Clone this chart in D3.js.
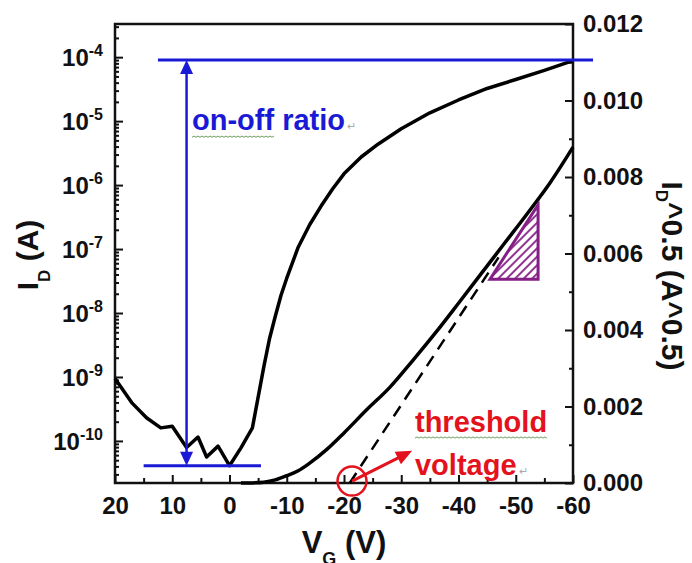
<!DOCTYPE html>
<html>
<head>
<meta charset="utf-8">
<script src="https://cdn.jsdelivr.net/npm/d3@7"></script>
<style>
body { margin: 0; background: #fff; }
svg { display: block; font-family: Arial, 'Liberation Sans', sans-serif; }
.tick text { font-size: 24px; font-weight: bold; fill: #111; }
.tick line { stroke: #111; stroke-width: 2; }
.axis-title { font-weight: bold; fill: #111; }
</style>
</head>
<body>
<div id="chart"></div>
<script>
// Transfer curve, log scale (left axis)
const vgLog = [20, 17, 14.5, 12, 10, 7.5, 5.5, 4, 2, 0, -2, -4, -6, -7, -8, -9, -10, -12, -14, -16, -18, -20, -23, -26, -30, -35, -40, -45, -50, -55, -60];
const idLog = [9.5e-10, 3.9e-10, 2.3e-10, 1.6e-10, 1.7e-10, 7.9e-11, 1.15e-10, 5.6e-11, 8.3e-11, 4.1e-11, 7.8e-11, 1.6e-10,
    1.45e-9, 4.0e-9, 8.9e-9, 1.9e-8, 3.5e-8, 1.07e-7, 2.4e-7, 4.7e-7, 8.7e-7, 1.5e-6, 2.75e-6, 4.4e-6, 7.6e-6,
    1.35e-5, 2.14e-5, 3.24e-5, 4.47e-5, 6.2e-5, 8.8e-5];

// Transfer curve, square root (right axis)
const vgSqrt = [-2, -4, -6, -8, -10, -12, -14, -17, -20, -24, -28, -32, -36, -40, -44, -48, -52, -56, -60];
const idSqrt = [0, 0.000003, 0.00002, 0.00008, 0.00019, 0.00032, 0.00052, 0.00088, 0.00131, 0.00192, 0.0025, 0.0032,
    0.00393, 0.0047, 0.00548, 0.00626, 0.00704, 0.00785, 0.00878];

// Linear fit used for the threshold voltage
const vgFit = [-21, -47];
const idFit = [0, 0.0059];

// Tick values
const xTicks = [20, 10, 0, -10, -20, -30, -40, -50, -60];
const xMinorTicks = [15, 5, -5, -15, -25, -35, -45, -55];
const logExponents = [-4, -5, -6, -7, -8, -9, -10];
const sqrtTicks = [0, 0.002, 0.004, 0.006, 0.008, 0.010, 0.012];
const sqrtMinorTicks = [0.001, 0.003, 0.005, 0.007, 0.009, 0.011];

// Annotation values
const ionLevel = 9e-5;
const ioffLevel = 4.1e-11;
const ratioVg = 7.5;
const onLineVg = [12.5, -63.5];
const offLineVg = [15, -5.5];
const vthVg = -21.4;
const triangleVg = [-45.5, -53.9];
const triangleId = [0.00533, 0.00727];

const margin = { top: 24, right: 119, bottom: 80, left: 115 };
const width = 692 - margin.left - margin.right;
const height = 563 - margin.top - margin.bottom;

const blue = '#1a1ad6';
const red = '#e3121c';
const purple = '#851f86';

const svg = d3.select('#chart')
    .append('svg')
    .attr('width', 692)
    .attr('height', 563);

const defs = svg.append('defs');
defs.append('pattern')
    .attr('id', 'hatch')
    .attr('patternUnits', 'userSpaceOnUse')
    .attr('width', 6)
    .attr('height', 6)
    .attr('patternTransform', 'rotate(45)')
    .append('line')
    .attr('x1', 1).attr('y1', 0).attr('x2', 1).attr('y2', 6)
    .attr('stroke', purple)
    .attr('stroke-width', 1.8);

const g = svg.append('g')
    .attr('transform', `translate(${margin.left}, ${margin.top})`);

// Scales
const x = d3.scaleLinear().domain([20, -60]).range([0, width]);
const yLog = d3.scaleLog().domain([2.2e-11, 3.3e-4]).range([height, 0]);
const ySqrt = d3.scaleLinear().domain([0, 0.012]).range([height, 0]);

// Log minor ticks
const logMinor = [];
for (let e = -11; e <= -4; e++) {
    for (let k = 2; k <= 9; k++) {
        const v = k * Math.pow(10, e);
        if (v > 2.2e-11 && v < 3.3e-4) logMinor.push(v);
    }
}

// Bottom axis
g.append('g')
    .attr('transform', `translate(0, ${height})`)
    .call(d3.axisBottom(x).tickValues(xTicks).tickSize(-8).tickPadding(14).tickFormat(d => String(d)))
    .call(a => a.select('.domain').remove());
g.append('g')
    .attr('transform', `translate(0, ${height})`)
    .call(d3.axisBottom(x).tickValues(xMinorTicks).tickSize(-5).tickFormat(''))
    .call(a => a.select('.domain').remove());

// Left log axis
g.append('g')
    .call(d3.axisLeft(yLog).tickValues(logExponents.map(e => Math.pow(10, e))).tickSize(-8).tickFormat(''))
    .call(a => a.select('.domain').remove());
g.append('g')
    .call(d3.axisLeft(yLog).tickValues(logMinor).tickSize(-4).tickFormat(''))
    .call(a => a.select('.domain').remove());

logExponents.forEach(e => {
    const t = g.append('text')
        .attr('x', -12)
        .attr('y', yLog(Math.pow(10, e)))
        .attr('dy', '0.36em')
        .attr('text-anchor', 'end')
        .style('font-size', '24px')
        .style('font-weight', 'bold')
        .style('fill', '#111');
    t.append('tspan').text('10');
    t.append('tspan').attr('dy', -10).style('font-size', '16px').text(String(e));
});

// Right linear axis
g.append('g')
    .attr('transform', `translate(${width}, 0)`)
    .call(d3.axisRight(ySqrt).tickValues(sqrtTicks).tickSize(-8).tickPadding(10).tickFormat(d => d.toFixed(3)))
    .call(a => a.select('.domain').remove());
g.append('g')
    .attr('transform', `translate(${width}, 0)`)
    .call(d3.axisRight(ySqrt).tickValues(sqrtMinorTicks).tickSize(-4).tickFormat(''))
    .call(a => a.select('.domain').remove());

// Frame
g.append('rect')
    .attr('width', width)
    .attr('height', height)
    .attr('fill', 'none')
    .attr('stroke', '#111')
    .attr('stroke-width', 2.5);

// Axis titles
const xTitle = svg.append('text')
    .attr('class', 'axis-title')
    .attr('x', margin.left + width / 2)
    .attr('y', 553)
    .attr('text-anchor', 'middle')
    .style('font-size', '31px');
xTitle.append('tspan').text('V');
xTitle.append('tspan').attr('dy', 12).style('font-size', '18px').text('G');
xTitle.append('tspan').attr('dy', -12).text(' (V)');

const yTitle = svg.append('text')
    .attr('class', 'axis-title')
    .attr('transform', 'translate(38, 255) rotate(-90)')
    .attr('text-anchor', 'middle')
    .style('font-size', '30px');
yTitle.append('tspan').text('I');
yTitle.append('tspan').attr('dy', 12).style('font-size', '17px').text('D');
yTitle.append('tspan').attr('dy', -12).text(' (A)');

const y2Title = svg.append('text')
    .attr('class', 'axis-title')
    .attr('transform', 'translate(662, 276) rotate(90)')
    .attr('text-anchor', 'middle')
    .style('font-size', '30px');
y2Title.append('tspan').text('I');
y2Title.append('tspan').attr('dy', 6).style('font-size', '17px').text('D');
y2Title.append('tspan').attr('dy', -6).text('^0.5 (A^0.5)');

// Curves
const logLine = d3.line()
    .x(d => x(d[0]))
    .y(d => yLog(d[1]));
const sqrtLine = d3.line()
    .x(d => x(d[0]))
    .y(d => ySqrt(d[1]))
    .curve(d3.curveMonotoneX);

g.append('path')
    .datum(vgLog.map((v, i) => [v, idLog[i]]))
    .attr('d', logLine)
    .attr('fill', 'none')
    .attr('stroke', '#000')
    .attr('stroke-width', 3.5)
    .attr('stroke-linejoin', 'round');

g.append('path')
    .datum(vgSqrt.map((v, i) => [v, idSqrt[i]]))
    .attr('d', sqrtLine)
    .attr('fill', 'none')
    .attr('stroke', '#000')
    .attr('stroke-width', 3.5);

g.append('path')
    .datum(vgFit.map((v, i) => [v, idFit[i]]))
    .attr('d', d3.line().x(d => x(d[0])).y(d => ySqrt(d[1])))
    .attr('fill', 'none')
    .attr('stroke', '#000')
    .attr('stroke-width', 2.5)
    .attr('stroke-dasharray', '12,8');

// Slope triangle
const tri = [[triangleVg[0], triangleId[0]], [triangleVg[1], triangleId[0]], [triangleVg[1], triangleId[1]]];
g.append('path')
    .attr('d', 'M' + tri.map(p => `${x(p[0])},${ySqrt(p[1])}`).join('L') + 'Z')
    .attr('fill', 'url(#hatch)')
    .attr('stroke', purple)
    .attr('stroke-width', 3)
    .attr('stroke-linejoin', 'miter');

// Arrow head helper
function arrowHead(tipX, tipY, fromX, fromY, len, halfW) {
    const a = Math.atan2(tipY - fromY, tipX - fromX);
    const bx = tipX - len * Math.cos(a), by = tipY - len * Math.sin(a);
    const px = -Math.sin(a) * halfW, py = Math.cos(a) * halfW;
    return `${tipX},${tipY} ${bx + px},${by + py} ${bx - px},${by - py}`;
}

// On-off ratio annotation
const yOn = yLog(ionLevel), yOff = yLog(ioffLevel), ax = x(ratioVg);
g.append('line')
    .attr('x1', x(onLineVg[0])).attr('x2', x(onLineVg[1]))
    .attr('y1', yOn).attr('y2', yOn)
    .attr('stroke', blue).attr('stroke-width', 3);
g.append('line')
    .attr('x1', x(offLineVg[0])).attr('x2', x(offLineVg[1]))
    .attr('y1', yOff).attr('y2', yOff)
    .attr('stroke', blue).attr('stroke-width', 3);
g.append('line')
    .attr('x1', ax).attr('x2', ax)
    .attr('y1', yOn + 10).attr('y2', yOff - 10)
    .attr('stroke', blue).attr('stroke-width', 2.5);
g.append('polygon')
    .attr('points', arrowHead(ax, yOn, ax, yOn + 20, 14, 6.5))
    .attr('fill', blue);
g.append('polygon')
    .attr('points', arrowHead(ax, yOff, ax, yOff - 20, 14, 6.5))
    .attr('fill', blue);

const ratioText = g.append('text')
    .attr('x', x(6.55))
    .attr('y', yLog(7.2e-6))
    .style('font-size', '29px')
    .style('font-weight', 'bold')
    .style('fill', blue);
ratioText.append('tspan').text('on-off ratio');
ratioText.append('tspan').attr('dx', 2).style('font-size', '11px').style('font-weight', 'normal').style('fill', '#aaa').text('\u21b5');

// Threshold voltage annotation
const cx = x(vthVg), cy = ySqrt(0.00005);
g.append('circle')
    .attr('cx', cx).attr('cy', cy).attr('r', 14.5)
    .attr('fill', 'none').attr('stroke', red).attr('stroke-width', 2.5);
const tipX = x(-31.9), tipY = ySqrt(0.00084);
g.append('line')
    .attr('x1', cx).attr('y1', cy)
    .attr('x2', tipX - 10 * Math.cos(Math.atan2(tipY - cy, tipX - cx)))
    .attr('y2', tipY - 10 * Math.sin(Math.atan2(tipY - cy, tipX - cx)))
    .attr('stroke', red).attr('stroke-width', 3);
g.append('polygon')
    .attr('points', arrowHead(tipX, tipY, cx, cy, 16, 7))
    .attr('fill', red);

const thText = g.append('text')
    .attr('x', x(-32.4))
    .attr('y', ySqrt(0.00133))
    .style('font-size', '29px')
    .style('font-weight', 'bold')
    .style('fill', red)
    .text('threshold');
const vText = g.append('text')
    .attr('x', x(-32.4))
    .attr('y', ySqrt(0.00021))
    .style('font-size', '29px')
    .style('font-weight', 'bold')
    .style('fill', red);
vText.append('tspan').text('voltage');
vText.append('tspan').attr('dx', 2).style('font-size', '11px').style('font-weight', 'normal').style('fill', '#aaa').text('\u21b5');

// Word-style wavy underlines
function squiggle(x0, x1, y0) {
    let d = `M${x0},${y0}`;
    let up = true;
    for (let xx = x0 + 2; xx <= x1; xx += 2) {
        d += `L${xx},${y0 + (up ? -1.2 : 0)}`;
        up = !up;
    }
    return d;
}
const rNode = ratioText.select('tspan').node();
const rx0 = +ratioText.attr('x');
g.append('path')
    .attr('d', squiggle(rx0, rx0 + rNode.getSubStringLength(0, 6), +ratioText.attr('y') + 7))
    .attr('fill', 'none').attr('stroke', '#6e9f5e').attr('stroke-width', 1);
const tx0 = +thText.attr('x');
g.append('path')
    .attr('d', squiggle(tx0, tx0 + thText.node().getComputedTextLength(), +thText.attr('y') + 6))
    .attr('fill', 'none').attr('stroke', '#6e9f5e').attr('stroke-width', 1);
</script>
</body>
</html>
